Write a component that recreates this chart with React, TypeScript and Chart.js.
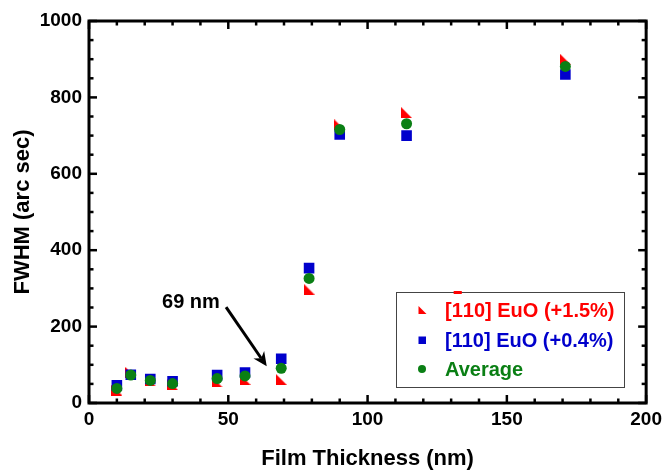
import React, { useEffect, useRef } from 'react';
import { Chart, registerables } from 'chart.js';

Chart.register(...registerables);

// ---- data ----
const thickness = [10, 15, 22, 30, 46, 56, 69, 79, 90, 114, 171];
const fwhmBar110 = [34, 80, 58, 48, 55, 62, 62, 298, 728, 760, 900];
const fwhm110 = [46, 74, 63, 57, 73, 80, 116, 353, 703, 700, 860];
const fwhmAverage = [38, 73, 59, 51, 64, 71, 91, 326, 716, 731, 881];

const xTickValues = [0, 50, 100, 150, 200];
const yTickValues = [0, 200, 400, 600, 800, 1000];
const xMinorStep = 10;
const yMinorStep = 50;

const seriesNames = ['[110] EuO (+1.5%)', '[110] EuO (+0.4%)', 'Average'];
const barredLabelParts = ['[', '1', '10] EuO (+1.5%)'];
const xTitle = 'Film Thickness (nm)';
const yTitle = 'FWHM (arc sec)';
const annotationText = '69 nm';
const annotationTextPos = [36.6, 249];
const arrowFrom = [49.2, 251];
const arrowTo = [63.8, 96];

const RED = '#ff0000';
const BLUE = '#0000cc';
const GREEN = '#0a7f14';
const FONT = '"Liberation Sans", Arial, Helvetica, sans-serif';

function makeTriangle(size: number, color: string) {
  const c = document.createElement('canvas');
  c.width = size;
  c.height = size;
  const g = c.getContext('2d')!;
  g.fillStyle = color;
  g.beginPath();
  g.moveTo(0, 0);
  g.lineTo(0, size);
  g.lineTo(size, size);
  g.closePath();
  g.fill();
  return c;
}

const framePlugin = {
  id: 'frameTicks',
  beforeDatasetsDraw(chart: any) {
    const { ctx, chartArea: a, scales } = chart;
    const x = scales.x;
    const y = scales.y;
    ctx.save();
    ctx.strokeStyle = '#000';
    ctx.lineWidth = 2.5;
    const line = (x1: number, y1: number, x2: number, y2: number) => {
      ctx.beginPath();
      ctx.moveTo(x1, y1);
      ctx.lineTo(x2, y2);
      ctx.stroke();
    };
    const xMax = xTickValues[xTickValues.length - 1];
    const yMax = yTickValues[yTickValues.length - 1];
    for (let v = 0; v <= xMax; v += xMinorStep) {
      const px = x.getPixelForValue(v);
      const len = xTickValues.includes(v) ? 8 : 4.5;
      line(px, a.bottom, px, a.bottom - len);
      line(px, a.top, px, a.top + len);
    }
    for (let v = 0; v <= yMax; v += yMinorStep) {
      const py = y.getPixelForValue(v);
      const len = yTickValues.includes(v) ? 8 : 4.5;
      line(a.left, py, a.left + len, py);
      line(a.right, py, a.right - len, py);
    }
    ctx.lineWidth = 3;
    ctx.strokeRect(a.left, a.top, a.right - a.left, a.bottom - a.top);
    ctx.restore();
  },
  afterDatasetsDraw(chart: any) {
    const { ctx, scales } = chart;
    const x = scales.x;
    const y = scales.y;
    ctx.save();
    // annotation
    ctx.fillStyle = '#000';
    ctx.font = `bold 20px ${FONT}`;
    ctx.textAlign = 'center';
    ctx.textBaseline = 'alphabetic';
    ctx.fillText(annotationText, x.getPixelForValue(annotationTextPos[0]), y.getPixelForValue(annotationTextPos[1]));
    const x1 = x.getPixelForValue(arrowFrom[0]);
    const y1 = y.getPixelForValue(arrowFrom[1]);
    const x2 = x.getPixelForValue(arrowTo[0]);
    const y2 = y.getPixelForValue(arrowTo[1]);
    const ang = Math.atan2(y2 - y1, x2 - x1);
    const headLen = 14;
    const headW = 6.5;
    ctx.strokeStyle = '#000';
    ctx.lineWidth = 3;
    ctx.beginPath();
    ctx.moveTo(x1, y1);
    ctx.lineTo(x2 - Math.cos(ang) * headLen * 0.7, y2 - Math.sin(ang) * headLen * 0.7);
    ctx.stroke();
    ctx.beginPath();
    ctx.moveTo(x2, y2);
    ctx.lineTo(x2 - Math.cos(ang) * headLen - Math.sin(ang) * headW, y2 - Math.sin(ang) * headLen + Math.cos(ang) * headW);
    ctx.lineTo(x2 - Math.cos(ang) * headLen * 0.7, y2 - Math.sin(ang) * headLen * 0.7);
    ctx.lineTo(x2 - Math.cos(ang) * headLen + Math.sin(ang) * headW, y2 - Math.sin(ang) * headLen - Math.cos(ang) * headW);
    ctx.closePath();
    ctx.fillStyle = '#000';
    ctx.fill();

    // legend box
    const bx = 396, by = 292, bw = 228, bh = 95;
    ctx.fillStyle = '#fff';
    ctx.fillRect(bx, by, bw, bh);
    ctx.strokeStyle = '#444';
    ctx.lineWidth = 1;
    ctx.strokeRect(bx + 0.5, by + 0.5, bw, bh);

    const mx = 422;
    const tx = 445;
    const rows = [310, 340, 369];
    const base = [317, 347, 376];
    // markers
    ctx.fillStyle = RED;
    ctx.beginPath();
    ctx.moveTo(mx - 3.5, rows[0] - 4);
    ctx.lineTo(mx - 3.5, rows[0] + 4);
    ctx.lineTo(mx + 4.5, rows[0] + 4);
    ctx.closePath();
    ctx.fill();
    ctx.fillStyle = BLUE;
    ctx.fillRect(mx - 3.5, rows[1] - 3.5, 7.5, 7.5);
    ctx.fillStyle = GREEN;
    ctx.beginPath();
    ctx.arc(mx, rows[2], 4, 0, Math.PI * 2);
    ctx.fill();

    ctx.font = `bold 20px ${FONT}`;
    ctx.textAlign = 'left';
    ctx.textBaseline = 'alphabetic';
    // row 1 with overbar
    ctx.fillStyle = RED;
    let cx = tx;
    ctx.fillText(barredLabelParts[0], cx, base[0]);
    cx += ctx.measureText(barredLabelParts[0]).width;
    const w1 = ctx.measureText(barredLabelParts[1]).width;
    ctx.fillText(barredLabelParts[1], cx, base[0]);
    ctx.fillRect(cx + 2, base[0] - 26, w1 - 3, 3);
    cx += w1;
    ctx.fillText(barredLabelParts[2], cx, base[0]);
    ctx.fillStyle = BLUE;
    ctx.fillText(seriesNames[1], tx, base[1]);
    ctx.fillStyle = GREEN;
    ctx.fillText(seriesNames[2], tx, base[2]);
    ctx.restore();
  },
};

export default function App() {
  const ref = useRef<HTMLCanvasElement | null>(null);
  useEffect(() => {
    document.body.style.margin = '0';
    if (!ref.current) return;
    const tri = makeTriangle(11, RED);
    const pts = (ys: number[]) => thickness.map((t, i) => ({ x: t, y: ys[i] }));
    const chart = new Chart(ref.current, {
      type: 'scatter',
      data: {
        datasets: [
          {
            label: seriesNames[0],
            data: pts(fwhmBar110),
            pointStyle: tri as any,
            pointRadius: 6,
            backgroundColor: RED,
            borderColor: RED,
            borderWidth: 0,
            order: 3,
          },
          {
            label: seriesNames[1],
            data: pts(fwhm110),
            pointStyle: 'rect',
            pointRadius: 7.5,
            backgroundColor: BLUE,
            borderColor: BLUE,
            borderWidth: 0,
            order: 2,
          },
          {
            label: seriesNames[2],
            data: pts(fwhmAverage),
            pointStyle: 'circle',
            pointRadius: 5.5,
            backgroundColor: GREEN,
            borderColor: GREEN,
            borderWidth: 0,
            order: 1,
          },
        ],
      },
      options: {
        animation: false,
        responsive: false,
        devicePixelRatio: 1,
        layout: { padding: { top: 21, right: 20, left: 0, bottom: 0 } },
        plugins: {
          legend: { display: false },
          tooltip: { enabled: false },
        },
        scales: {
          x: {
            type: 'linear',
            min: xTickValues[0],
            max: xTickValues[xTickValues.length - 1],
            grid: { display: false, drawTicks: false },
            border: { display: false },
            afterFit: (s: any) => { s.height = 69; },
            afterBuildTicks: (s: any) => { s.ticks = xTickValues.map((v) => ({ value: v })); },
            ticks: {
              color: '#000',
              font: { family: FONT, size: 19, weight: 'bold' },
              padding: 5,
              maxRotation: 0,
              callback: (v: any) => String(v),
            },
            title: {
              display: true,
              text: xTitle,
              color: '#000',
              font: { family: FONT, size: 22, weight: 'bold' },
              padding: { top: 0, bottom: 0 },
            },
          },
          y: {
            type: 'linear',
            min: yTickValues[0],
            max: yTickValues[yTickValues.length - 1],
            grid: { display: false, drawTicks: false },
            border: { display: false },
            afterFit: (s: any) => { s.width = 89; },
            afterBuildTicks: (s: any) => { s.ticks = yTickValues.map((v) => ({ value: v })); },
            ticks: {
              color: '#000',
              font: { family: FONT, size: 19, weight: 'bold' },
              padding: 7,
              callback: (v: any) => String(v),
            },
            title: {
              display: true,
              text: yTitle,
              color: '#000',
              font: { family: FONT, size: 22, weight: 'bold' },
              padding: { top: 10, bottom: 0 },
            },
          },
        },
      } as any,
      plugins: [framePlugin],
    });
    return () => chart.destroy();
  }, []);
  return (
    <div style={{ width: 667, height: 472, background: '#fff' }}>
      <canvas ref={ref} width={667} height={472} style={{ display: 'block' }} />
    </div>
  );
}
